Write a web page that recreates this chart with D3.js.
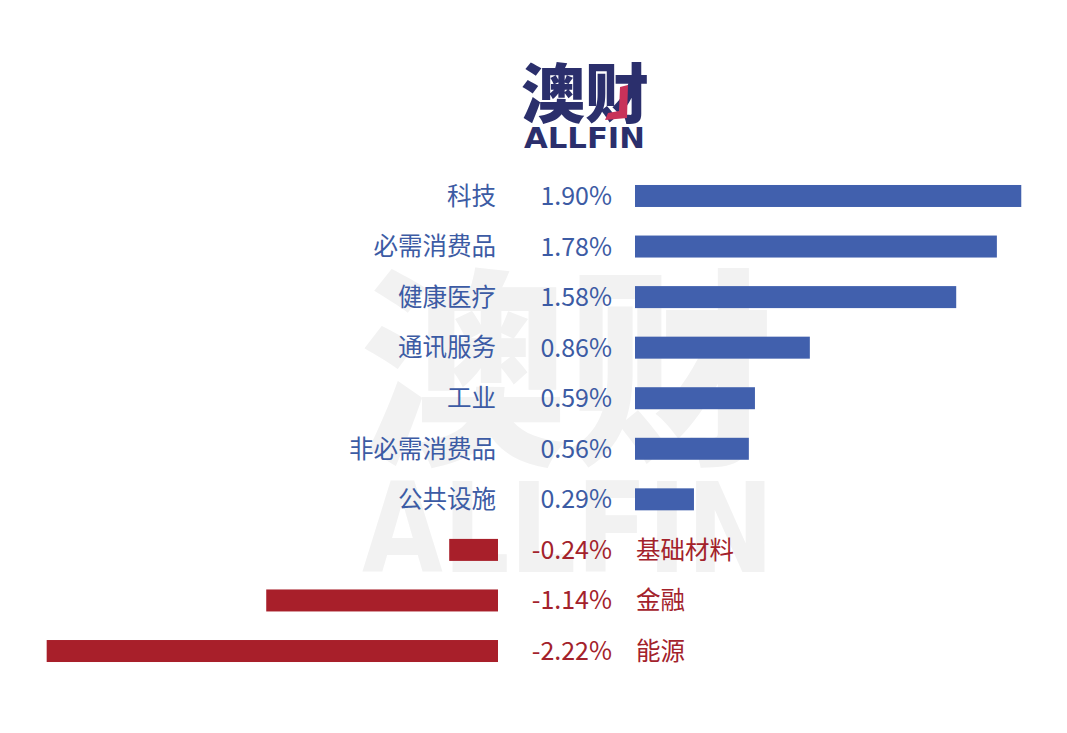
<!DOCTYPE html>
<html>
<head>
<meta charset="utf-8">
<script src="https://cdn.jsdelivr.net/npm/d3@7"></script>
<style>
  html, body { margin: 0; padding: 0; background: #ffffff; }
  svg { display: block; }
</style>
</head>
<body>
<svg id="chart" width="1067" height="733"></svg>
<script>
// Sector performance, percent change
const sectors = ["科技", "必需消费品", "健康医疗", "通讯服务", "工业", "非必需消费品", "公共设施", "基础材料", "金融", "能源"];
const changes = [1.90, 1.78, 1.58, 0.86, 0.59, 0.56, 0.29, -0.24, -1.14, -2.22];
const valueLabels = ["1.90%", "1.78%", "1.58%", "0.86%", "0.59%", "0.56%", "0.29%", "-0.24%", "-1.14%", "-2.22%"];

const W = 1067, H = 733;
const svg = d3.select("#chart");
const FONT = "'Noto Sans CJK SC', 'Noto Sans', sans-serif";
const BLUE = "#4160ad", BLUE_TEXT = "#3c5ba4";
const RED = "#a81f2a", RED_TEXT = "#a3222b";
const NAVY = "#2b2f6c";

// Background watermark
const wm = svg.append("g").attr("fill", "#f2f2f2");
wm.append("text")
  .attr("x", 360).attr("y", 448)
  .attr("font-family", FONT).attr("font-weight", 900)
  .attr("font-size", 210)
  .attr("textLength", 414).attr("lengthAdjust", "spacingAndGlyphs")
  .text("澳财");
wm.append("text")
  .attr("x", 362).attr("y", 572)
  .attr("font-family", "'DejaVu Sans', sans-serif").attr("font-weight", 700)
  .attr("font-size", 124)
  .attr("textLength", 412).attr("lengthAdjust", "spacingAndGlyphs")
  .text("ALLFIN");

// Logo
const logo = svg.append("g");
logo.append("text")
  .attr("x", 521).attr("y", 117)
  .attr("font-family", FONT).attr("font-weight", 900)
  .attr("font-size", 64).attr("fill", NAVY)
  .attr("textLength", 128).attr("lengthAdjust", "spacingAndGlyphs")
  .text("澳财");
logo.append("path")
  .attr("d", "M620,87 L628,85 L627,118 L605,120 L608,113 L619,111 Z")
  .attr("fill", "#c8325a");
logo.append("text")
  .attr("x", 524).attr("y", 148)
  .attr("font-family", "'DejaVu Sans', sans-serif").attr("font-weight", 700)
  .attr("font-size", 28).attr("fill", NAVY)
  .attr("textLength", 121).attr("lengthAdjust", "spacingAndGlyphs")
  .text("ALLFIN");

// Scales: one band per sector, 22px bars on a ~50.6px pitch
const rows = d3.range(sectors.length);
const y = d3.scaleBand()
  .domain(rows)
  .range([170.7, 676.3])
  .paddingInner(0.565)
  .paddingOuter(0.2825);

const posZero = 635, negZero = 498;
const pxPerUnit = 203.3;
const xPos = d3.scaleLinear().domain([0, 1]).range([posZero, posZero + pxPerUnit]);
const xNeg = d3.scaleLinear().domain([0, -1]).range([negZero, negZero - pxPerUnit]);

const g = svg.append("g");

// Bars
g.selectAll("rect.bar")
  .data(rows)
  .join("rect")
  .attr("class", "bar")
  .attr("x", i => changes[i] >= 0 ? xPos(0) : xNeg(changes[i]))
  .attr("width", i => changes[i] >= 0 ? xPos(changes[i]) - xPos(0) : xNeg(0) - xNeg(changes[i]))
  .attr("y", i => y(i))
  .attr("height", y.bandwidth())
  .attr("fill", i => changes[i] >= 0 ? BLUE : RED);

const mid = i => y(i) + y.bandwidth() / 2;

// Value labels
g.selectAll("text.val")
  .data(rows)
  .join("text")
  .attr("class", "val")
  .attr("x", 612)
  .attr("y", mid)
  .attr("dy", "0.36em")
  .attr("text-anchor", "end")
  .attr("font-family", FONT)
  .attr("font-size", 25)
  .attr("fill", i => changes[i] >= 0 ? BLUE_TEXT : RED_TEXT)
  .text(i => valueLabels[i]);

// Sector names
g.selectAll("text.cat")
  .data(rows)
  .join("text")
  .attr("class", "cat")
  .attr("x", i => changes[i] >= 0 ? 496 : 636)
  .attr("y", mid)
  .attr("dy", "0.36em")
  .attr("text-anchor", i => changes[i] >= 0 ? "end" : "start")
  .attr("font-family", FONT)
  .attr("font-size", 24.5)
  .attr("fill", i => changes[i] >= 0 ? BLUE_TEXT : RED_TEXT)
  .text(i => sectors[i]);
</script>
</body>
</html>
